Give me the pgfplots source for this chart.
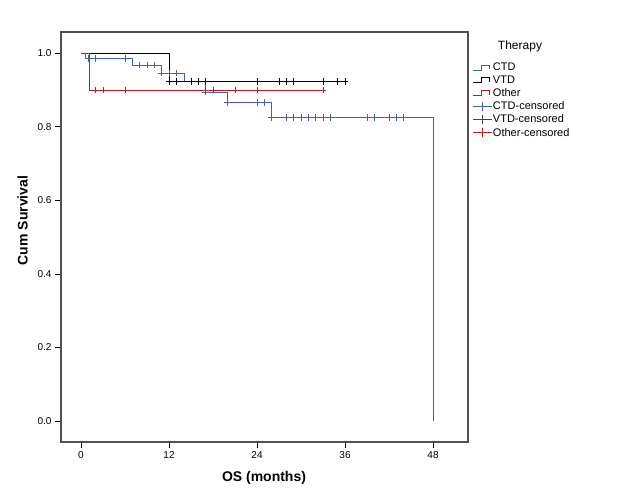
\documentclass[border=0pt]{standalone}
\usepackage{fontspec}
\setmainfont{Liberation Sans}
\usepackage{pgfplots}
\pgfplotsset{compat=1.18}
\definecolor{ctd}{RGB}{66,96,176}
\definecolor{oth}{RGB}{185,30,40}
\definecolor{axgray}{RGB}{80,80,80}
\pgfplotsset{
  stepleg/.style={legend image code/.code={\draw[##1] (0bp,-2.5bp)--(9bp,-2.5bp)--(9bp,2.5bp)--(17bp,2.5bp)--(17bp,-2bp);}},
  censleg/.style={legend image code/.code={\draw[##1] (0bp,0bp)--(19bp,0bp); \draw[##1] (9.5bp,-4.5bp)--(9.5bp,4.5bp);}},
}
\begin{document}
\begin{tikzpicture}
\path[use as bounding box] (0,0) rectangle (626bp,501bp);
\begin{axis}[
  at={(61bp,59bp)}, anchor=south west,
  scale only axis, width=407bp, height=410bp,
  xmin=-2.73, xmax=52.77, ymin=-0.057, ymax=1.058,
  xtick={0,12,24,36,48}, ytick={0,0.2,0.4,0.6,0.8,1},
  yticklabel style={/pgf/number format/.cd, fixed, fixed zerofill, precision=1},
  /pgf/number format/assume math mode=true,
  tick pos=left, tick align=outside, major tick length=6bp,
  axis line style={draw=axgray, line width=1.2bp},
  tick style={draw=black, line width=0.8bp},
  ticklabel style={font=\fontsize{10bp}{12bp}\selectfont},
  legend style={draw=none, fill=none, inner sep=0pt,
    at={(1.0098,0.930)}, anchor=north west,
    font=\fontsize{11bp}{13bp}\selectfont, row sep=-0.3bp,
    nodes={inner xsep=1bp, inner ysep=2bp}},
  legend cell align=left,
]
% legend entries
\addlegendimage{ctd, line width=0.8bp, stepleg}
\addlegendentry{CTD}
\addlegendimage{black, line width=0.8bp, stepleg}
\addlegendentry{VTD}
\addlegendimage{oth, line width=0.8bp, stepleg}
\addlegendentry{Other}
\addlegendimage{ctd, line width=0.8bp, censleg}
\addlegendentry{CTD-censored}
\addlegendimage{black!75, line width=0.8bp, censleg}
\addlegendentry{VTD-censored}
\addlegendimage{oth, line width=0.8bp, censleg}
\addlegendentry{Other-censored}
% CTD
\addplot[ctd, line width=1bp, const plot, forget plot] coordinates {
(0,1) (0.6,0.986) (7,0.968) (11,0.946) (14.1,0.923) (17,0.894) (20,0.866) (26,0.825) (48,0.825) (48,0)};
\addplot[ctd, only marks, mark=+, mark size=3.2bp, mark options={line width=0.9bp}, forget plot] coordinates {
(1,0.986) (2,0.986) (6,0.986) (8,0.968) (9,0.968) (10,0.968) (11,0.946) (12,0.946) (13,0.946)
(15,0.923) (16,0.923) (17,0.894) (20,0.866) (24,0.866) (25,0.866) (26,0.825)
(28,0.825) (29,0.825) (30,0.825) (31,0.825) (32,0.825) (33,0.825) (34,0.825)
(39,0.825) (40,0.825) (42,0.825) (43,0.825) (44,0.825)};
% VTD
\addplot[black, line width=1bp, const plot, forget plot] coordinates {
(0,1) (12,0.923) (36.2,0.923)};
\addplot[black, only marks, mark=+, mark size=3.2bp, mark options={line width=0.9bp}, forget plot] coordinates {
(12,0.923) (13,0.923) (15,0.923) (16,0.923) (17,0.923) (24,0.923) (27,0.923) (28,0.923) (29,0.923)
(33,0.923) (35,0.923) (36,0.923)};
% Other
\addplot[oth, line width=1bp, const plot, forget plot] coordinates {
(0,1) (1.1,0.9) (33.1,0.9)};
\addplot[oth, only marks, mark=+, mark size=3.2bp, mark options={line width=0.9bp}, forget plot] coordinates {
(2,0.9) (3,0.9) (6,0.9) (17,0.9) (18,0.9) (21,0.9) (24,0.9) (33,0.9)};
\end{axis}
\node[font=\fontsize{12bp}{14bp}\selectfont] at (520bp,455bp) {Therapy};
\node[font=\bfseries\fontsize{14bp}{16bp}\selectfont] at (264bp,23bp) {OS (months)};
\node[font=\bfseries\fontsize{14bp}{16bp}\selectfont, rotate=90] at (22.5bp,280.5bp) {Cum Survival};
\end{tikzpicture}
\end{document}
